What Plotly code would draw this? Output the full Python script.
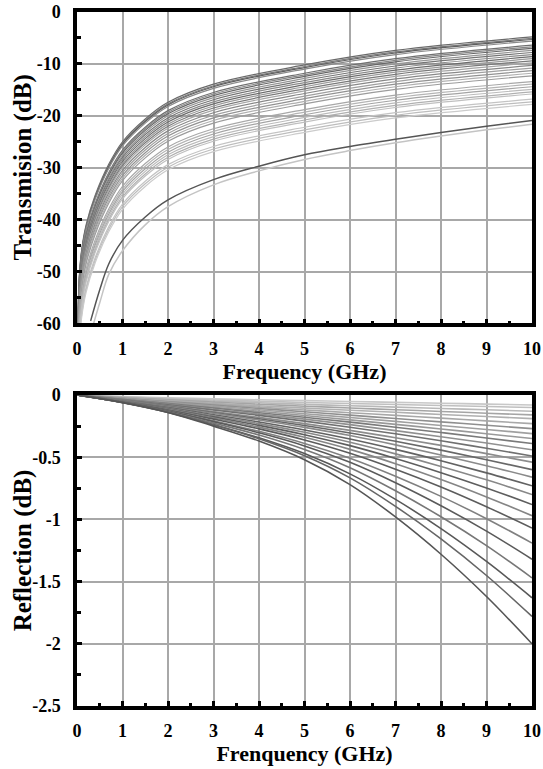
import plotly.graph_objects as go

# ---------------- data ----------------
trans_freq = [0.02, 0.05, 0.1, 0.2, 0.4, 0.7, 1, 1.5, 2, 3, 5, 7, 10]
trans_db = [
    [-60.0, -51.0, -46.0, -41.0, -35.3, -29.3, -25.0, -20.6, -17.4, -13.9, -10.2, -7.4, -4.8],
    [-60.3, -51.3, -46.3, -41.3, -35.6, -29.6, -25.3, -20.9, -17.7, -14.2, -10.5, -7.7, -5.1],
    [-60.5, -51.5, -46.5, -41.5, -35.8, -29.8, -25.5, -21.1, -17.9, -14.4, -10.7, -7.9, -5.3],
    [-60.8, -51.8, -46.8, -41.8, -36.1, -30.1, -25.8, -21.4, -18.2, -14.7, -11.0, -8.2, -5.6],
    [-61.6, -52.6, -47.6, -42.6, -36.9, -30.9, -26.6, -22.2, -19.0, -15.5, -11.8, -9.0, -6.4],
    [-61.9, -52.9, -47.9, -42.9, -37.2, -31.2, -26.9, -22.5, -19.3, -15.8, -12.1, -9.3, -6.7],
    [-62.2, -53.2, -48.2, -43.2, -37.5, -31.5, -27.2, -22.8, -19.6, -16.1, -12.4, -9.6, -7.0],
    [-62.6, -53.6, -48.6, -43.6, -37.9, -31.9, -27.6, -23.2, -20.0, -16.5, -12.8, -10.0, -7.4],
    [-63.0, -54.0, -49.0, -44.0, -38.3, -32.3, -28.0, -23.6, -20.4, -16.9, -13.2, -10.4, -7.8],
    [-63.4, -54.4, -49.4, -44.4, -38.7, -32.7, -28.4, -24.0, -20.8, -17.3, -13.6, -10.8, -8.2],
    [-63.8, -54.8, -49.8, -44.8, -39.1, -33.1, -28.8, -24.4, -21.2, -17.7, -14.0, -11.2, -8.6],
    [-64.2, -55.2, -50.2, -45.2, -39.5, -33.5, -29.2, -24.8, -21.6, -18.1, -14.4, -11.6, -9.0],
    [-64.6, -55.6, -50.6, -45.6, -39.9, -33.9, -29.6, -25.2, -22.0, -18.5, -14.8, -12.0, -9.4],
    [-65.0, -56.0, -51.0, -46.0, -40.3, -34.3, -30.0, -25.6, -22.4, -18.9, -15.2, -12.4, -9.8],
    [-65.5, -56.5, -51.5, -46.5, -40.8, -34.8, -30.5, -26.1, -22.9, -19.4, -15.7, -12.9, -10.3],
    [-66.0, -57.0, -52.0, -47.0, -41.3, -35.3, -31.0, -26.6, -23.4, -19.9, -16.2, -13.4, -10.8],
    [-66.5, -57.5, -52.5, -47.5, -41.8, -35.8, -31.5, -27.1, -23.9, -20.4, -16.7, -13.9, -11.3],
    [-67.0, -58.0, -53.0, -48.0, -42.3, -36.3, -32.0, -27.6, -24.4, -20.9, -17.2, -14.4, -11.8],
    [-67.5, -58.5, -53.5, -48.5, -42.8, -36.8, -32.5, -28.1, -24.9, -21.4, -17.7, -14.9, -12.3],
    [-68.6, -59.6, -54.6, -49.6, -43.9, -37.9, -33.6, -29.2, -26.0, -22.5, -18.8, -16.0, -13.4],
    [-69.1, -60.1, -55.1, -50.1, -44.4, -38.4, -34.1, -29.7, -26.5, -23.0, -19.3, -16.5, -13.9],
    [-69.6, -60.6, -55.6, -50.6, -44.9, -38.9, -34.6, -30.2, -27.0, -23.5, -19.8, -17.0, -14.4],
    [-70.1, -61.1, -56.1, -51.1, -45.4, -39.4, -35.1, -30.7, -27.5, -24.0, -20.3, -17.5, -14.9],
    [-70.6, -61.6, -56.6, -51.6, -45.9, -39.9, -35.6, -31.2, -28.0, -24.5, -20.8, -18.0, -15.4],
    [-71.0, -62.0, -57.0, -52.0, -46.3, -40.3, -36.0, -31.6, -28.4, -24.9, -21.2, -18.4, -15.8],
    [-72.0, -63.0, -58.0, -53.0, -47.3, -41.3, -37.0, -32.6, -29.4, -25.9, -22.2, -19.4, -16.8],
    [-72.5, -63.5, -58.5, -53.5, -47.8, -41.8, -37.5, -33.1, -29.9, -26.4, -22.7, -19.9, -17.3],
    [-73.0, -64.0, -59.0, -54.0, -48.3, -42.3, -38.0, -33.6, -30.4, -26.9, -23.2, -20.4, -17.8],
]

outlier_freq = [0.3, 0.5, 0.7, 1, 1.5, 2, 3, 4, 5, 6, 7, 8, 9, 10]
outlier_dark_db = [-59.5, -53.5, -48.5, -44.0, -39.5, -36.2, -32.3, -29.7, -27.5, -25.9, -24.5, -23.2, -22.0, -20.9]
outlier_light_db = [-62.0, -56.0, -50.5, -46.0, -41.0, -37.5, -33.3, -30.6, -28.4, -26.7, -25.2, -23.9, -22.7, -21.6]

refl_freq = [0, 1, 2, 3, 4, 5, 6, 7, 8, 9, 10]
refl_db = [
    [0, -0.060, -0.140, -0.250, -0.370, -0.520, -0.720, -0.980, -1.280, -1.620, -2.00],
    [0, -0.060, -0.139, -0.240, -0.352, -0.488, -0.666, -0.895, -1.157, -1.451, -1.78],
    [0, -0.062, -0.140, -0.238, -0.344, -0.471, -0.634, -0.839, -1.074, -1.338, -1.63],
    [0, -0.060, -0.134, -0.225, -0.322, -0.438, -0.585, -0.770, -0.979, -1.211, -1.47],
    [0, -0.059, -0.128, -0.214, -0.304, -0.409, -0.541, -0.705, -0.890, -1.094, -1.32],
    [0, -0.060, -0.126, -0.207, -0.292, -0.389, -0.508, -0.653, -0.815, -0.994, -1.19],
    [0, -0.056, -0.120, -0.194, -0.272, -0.361, -0.468, -0.596, -0.739, -0.898, -1.07],
    [0, -0.054, -0.115, -0.185, -0.258, -0.340, -0.437, -0.552, -0.679, -0.819, -0.97],
    [0, -0.053, -0.111, -0.176, -0.244, -0.319, -0.407, -0.510, -0.624, -0.747, -0.88],
    [0, -0.051, -0.106, -0.167, -0.230, -0.300, -0.380, -0.473, -0.574, -0.682, -0.80],
    [0, -0.048, -0.101, -0.158, -0.217, -0.281, -0.354, -0.437, -0.528, -0.626, -0.73],
    [0, -0.046, -0.094, -0.147, -0.201, -0.260, -0.326, -0.401, -0.482, -0.568, -0.66],
    [0, -0.044, -0.091, -0.140, -0.191, -0.245, -0.305, -0.372, -0.443, -0.520, -0.60],
    [0, -0.042, -0.086, -0.133, -0.180, -0.230, -0.284, -0.343, -0.405, -0.471, -0.54],
    [0, -0.039, -0.079, -0.121, -0.164, -0.210, -0.259, -0.312, -0.368, -0.428, -0.49],
    [0, -0.037, -0.074, -0.114, -0.153, -0.194, -0.238, -0.286, -0.335, -0.386, -0.44],
    [0, -0.034, -0.069, -0.105, -0.142, -0.179, -0.218, -0.259, -0.301, -0.345, -0.39],
    [0, -0.032, -0.064, -0.098, -0.131, -0.165, -0.200, -0.236, -0.273, -0.311, -0.35],
    [0, -0.029, -0.059, -0.089, -0.119, -0.150, -0.181, -0.212, -0.245, -0.277, -0.31],
    [0, -0.027, -0.054, -0.081, -0.108, -0.135, -0.162, -0.189, -0.216, -0.243, -0.27],
    [0, -0.025, -0.050, -0.073, -0.097, -0.120, -0.142, -0.164, -0.186, -0.208, -0.23],
    [0, -0.023, -0.045, -0.066, -0.086, -0.105, -0.122, -0.139, -0.156, -0.173, -0.19],
    [0, -0.020, -0.039, -0.057, -0.074, -0.090, -0.104, -0.118, -0.132, -0.146, -0.16],
    [0, -0.018, -0.034, -0.048, -0.062, -0.075, -0.086, -0.097, -0.108, -0.119, -0.13],
    [0, -0.015, -0.028, -0.040, -0.050, -0.060, -0.068, -0.076, -0.084, -0.092, -0.10],
    [0, -0.012, -0.022, -0.031, -0.038, -0.045, -0.052, -0.059, -0.066, -0.073, -0.08],
]

x_tickvals = [0, 1, 2, 3, 4, 5, 6, 7, 8, 9, 10]
x_ticktext = ["0", "1", "2", "3", "4", "5", "6", "7", "8", "9", "10"]
trans_tickvals = [0, -10, -20, -30, -40, -50, -60]
trans_ticktext = ["0", "-10", "-20", "-30", "-40", "-50", "-60"]
refl_tickvals = [0, -0.5, -1, -1.5, -2, -2.5]
refl_ticktext = ["0", "-0.5", "-1", "-1.5", "-2", "-2.5"]

# ---------------- styles ----------------
trans_colors = ["#6a6a6a", "#7c7c7c", "#5f5f5f", "#8a8a8a", "#707070", "#878787", "#666666",
                "#959595", "#747474", "#8a8a8a", "#6c6c6c", "#9a9a9a", "#7a7a7a", "#a6a6a6",
                "#888888", "#a0a0a0", "#929292", "#b0b0b0", "#9c9c9c", "#a8a8a8", "#b5b5b5",
                "#a4a4a4", "#bbbbbb", "#b0b0b0", "#c0c0c0", "#c4c4c4", "#bdbdbd", "#cbcbcb"]
refl_colors = ["#555555", "#666666", "#585858", "#777777", "#5a5a5a", "#808080", "#5c5c5c",
               "#858585", "#5e5e5e", "#888888", "#626262", "#8a8a8a", "#686868", "#8c8c8c",
               "#707070", "#909090", "#7a7a7a", "#999999", "#a0a0a0", "#8f8f8f", "#a8a8a8",
               "#b0b0b0", "#a5a5a5", "#b8b8b8", "#c0c0c0", "#c8c8c8"]

FONT = "Liberation Serif"
TOP_DOMAIN = [0.5512, 1.0]
BOT_DOMAIN = [0.0, 0.4481]
fig = go.Figure()

for vals, col in zip(trans_db, trans_colors):
    fig.add_trace(go.Scatter(x=trans_freq, y=vals, mode="lines",
                             line=dict(color=col, width=1.2, shape="spline", smoothing=1.0),
                             xaxis="x", yaxis="y", showlegend=False, hoverinfo="skip"))
fig.add_trace(go.Scatter(x=outlier_freq, y=outlier_light_db, mode="lines",
                         line=dict(color="#c4c4c4", width=1.5, shape="spline"),
                         xaxis="x", yaxis="y", showlegend=False, hoverinfo="skip"))
fig.add_trace(go.Scatter(x=outlier_freq, y=outlier_dark_db, mode="lines",
                         line=dict(color="#555555", width=1.5, shape="spline"),
                         xaxis="x", yaxis="y", showlegend=False, hoverinfo="skip"))

for vals, col in zip(reversed(refl_db), reversed(refl_colors)):
    fig.add_trace(go.Scatter(x=refl_freq, y=vals, mode="lines",
                             line=dict(color=col, width=1.6, shape="spline"),
                             xaxis="x2", yaxis="y2", showlegend=False, hoverinfo="skip"))

tickfont = dict(family=FONT, size=18, color="black", weight="bold")
xtitlefont = dict(family=FONT, size=22, color="black", weight="bold")
ytitlefont = dict(family=FONT, size=25, color="black", weight="bold")

def xaxis_cfg(title, anchor):
    return dict(range=[0, 10], tickvals=x_tickvals, ticktext=x_ticktext, anchor=anchor,
                ticks="inside", ticklen=5, tickwidth=3, tickcolor="black",
                minor=dict(dtick=0.5, tick0=0, ticks="inside", ticklen=3, tickwidth=3,
                           tickcolor="black", showgrid=False),
                showgrid=True, gridcolor="#a8a8a8", gridwidth=1.5,
                showline=True, linecolor="black", linewidth=3.5, mirror=True,
                tickfont=tickfont, ticklabelstandoff=6, zeroline=False, automargin=False,
                title=dict(text=title, font=xtitlefont, standoff=4))

def yaxis_cfg(rng, tv, tt, mdt, domain, anchor):
    return dict(range=rng, tickvals=tv, ticktext=tt, domain=domain, anchor=anchor,
                ticks="inside", ticklen=5, tickwidth=3, tickcolor="black",
                minor=dict(dtick=mdt, tick0=0, ticks="inside", ticklen=4, tickwidth=3,
                           tickcolor="black", showgrid=False),
                showgrid=True, gridcolor="#a8a8a8", gridwidth=1.5,
                showline=True, linecolor="black", linewidth=3.5, mirror=True,
                tickfont=tickfont, ticklabelstandoff=9, zeroline=False, automargin=False)

ytitle_x = -0.119  # paper fraction left of the plot area
annotations = [
    dict(text="Transmision (dB)", xref="paper", yref="paper", x=ytitle_x,
         y=sum(TOP_DOMAIN) / 2, textangle=-90, showarrow=False,
         xanchor="center", yanchor="middle", font=ytitlefont),
    dict(text="Reflection (dB)", xref="paper", yref="paper", x=ytitle_x,
         y=sum(BOT_DOMAIN) / 2, textangle=-90, showarrow=False,
         xanchor="center", yanchor="middle", font=ytitlefont),
]

fig.update_layout(
    template="none",
    width=543, height=769,
    margin=dict(l=77, r=11, t=12, b=63),
    paper_bgcolor="white", plot_bgcolor="white",
    xaxis=xaxis_cfg("Frequency (GHz)", "y"),
    yaxis=yaxis_cfg([-60, 0], trans_tickvals, trans_ticktext, 5, TOP_DOMAIN, "x"),
    xaxis2=xaxis_cfg("Frenquency (GHz)", "y2"),
    yaxis2=yaxis_cfg([-2.5, 0], refl_tickvals, refl_ticktext, 0.25, BOT_DOMAIN, "x2"),
    annotations=annotations,
)

fig.write_html("out.html", config={"displayModeBar": False},
               post_script="document.body.style.margin='0';document.body.style.overflow='hidden';")
